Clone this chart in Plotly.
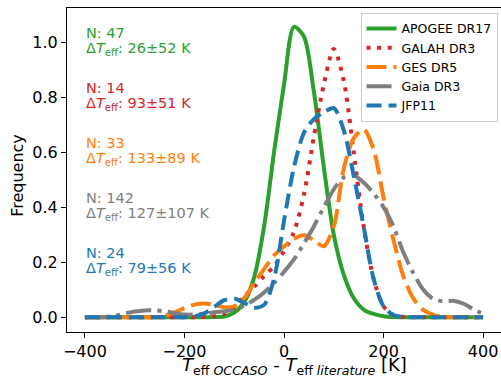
import plotly.graph_objects as go

# Temperature offset grid (K) shared by all density curves
dteff = [-400, -380, -360, -340, -320, -300, -280, -260, -240, -220, -200,
         -180, -160, -140, -120, -100, -80, -60, -40, -20, 0,
         20, 40, 60, 80, 100, 120, 140, 160, 180, 200,
         220, 240, 260, 280, 300, 320, 340, 360, 380, 400]

apogee = [0, 0, 0, 0, 0, 0, 0, 0, 0, 0, 0,
          0, 0, 0.001, 0.003, 0.017, 0.055, 0.145, 0.33, 0.60, 0.845,
          1.055, 1.02, 0.82, 0.545, 0.30, 0.155, 0.07, 0.028, 0.012, 0.004,
          0.001, 0, 0, 0, 0, 0, 0, 0, 0, 0]

galah = [0, 0, 0, 0, 0, 0, 0, 0, 0, 0, 0,
         0, 0.001, 0.004, 0.012, 0.035, 0.075, 0.11, 0.15, 0.185, 0.24,
         0.31, 0.445, 0.655, 0.845, 0.975, 0.86, 0.60, 0.33, 0.14, 0.04,
         0.008, 0.001, 0, 0, 0, 0, 0, 0, 0, 0]

ges = [0, 0, 0, 0, 0, 0, 0, 0, 0.005, 0.018, 0.033,
       0.046, 0.05, 0.045, 0.036, 0.04, 0.07, 0.124, 0.175, 0.225, 0.257,
       0.285, 0.298, 0.28, 0.258, 0.33, 0.54, 0.65, 0.683, 0.61, 0.435,
       0.28, 0.148, 0.068, 0.027, 0.009, 0.002, 0, 0, 0, 0]

gaia = [0, 0, 0.001, 0.005, 0.014, 0.021, 0.025, 0.025, 0.022, 0.015, 0.01,
        0.01, 0.013, 0.018, 0.022, 0.027, 0.042, 0.063, 0.09, 0.125, 0.165,
        0.21, 0.268, 0.33, 0.40, 0.465, 0.508, 0.515, 0.49, 0.45, 0.40,
        0.33, 0.235, 0.16, 0.10, 0.066, 0.058, 0.06, 0.05, 0.03, 0.012]

jfp11 = [0, 0, 0, 0, 0, 0, 0, 0, 0, 0, 0,
         0.003, 0.014, 0.038, 0.062, 0.068, 0.052, 0.035, 0.045, 0.14, 0.35,
         0.545, 0.67, 0.72, 0.745, 0.76, 0.68, 0.515, 0.33, 0.14, 0.04,
         0.008, 0.001, 0, 0, 0, 0, 0, 0, 0, 0]

names = ["APOGEE DR17", "GALAH DR3", "GES DR5", "Gaia DR3", "JFP11"]
n_stars = [47, 14, 33, 142, 24]
mean_off = [26, 93, 133, 127, 79]
std_off = [52, 51, 89, 107, 56]
label_y = [1.0, 0.8, 0.6, 0.4, 0.2]

colors = ["#2ca02c", "#d62728", "#ff7f0e", "#7f7f7f", "#1f77b4"]
dashes = ["solid", "4px,6.6px", "20px,7px", "25px,6.4px,4px,6.4px", "15px,7px"]
series = [apogee, galah, ges, gaia, jfp11]

FONT = "DejaVu Sans"

fig = go.Figure()
for name, ys, col, dash in zip(names, series, colors, dashes):
    fig.add_trace(go.Scatter(
        x=dteff, y=ys, mode="lines", name=name,
        line=dict(color=col, width=4, dash=dash, shape="spline", smoothing=0.8),
    ))

# Per-catalogue sample size and mean offset labels (two tight lines per block)
for n, m, s, yv, col in zip(n_stars, mean_off, std_off, label_y, colors):
    fig.add_annotation(x=-400, y=yv, xref="x", yref="y", xanchor="left", yanchor="bottom",
                       yshift=0, borderpad=0, text=f"N: {n}", showarrow=False,
                       font=dict(family=FONT, size=14.5, color=col))
    fig.add_annotation(x=-400, y=yv, xref="x", yref="y", xanchor="left", yanchor="top",
                       yshift=3, borderpad=0, text=f"Δ<i>T</i><sub>eff</sub>: {m}±{s} K",
                       showarrow=False, font=dict(family=FONT, size=14.5, color=col))

# Axis titles
fig.add_annotation(x=0.524, y=-0.066, xref="paper", yref="paper", xanchor="center", yanchor="top",
                   borderpad=0,
                   text="<i>T</i><sub>eff <i>OCCASO</i></sub> - <i>T</i><sub>eff <i>literature</i></sub> [K]",
                   showarrow=False, font=dict(family=FONT, size=18, color="black"))
fig.add_annotation(x=-0.113, y=0.485, xref="paper", yref="paper", xanchor="center", yanchor="middle",
                   text="Frequency", textangle=-90, showarrow=False,
                   font=dict(family=FONT, size=16, color="black"))

fig.update_layout(
    width=501, height=379,
    margin=dict(l=67, r=0, t=8, b=47),
    paper_bgcolor="white", plot_bgcolor="white",
    font=dict(family=FONT, size=16, color="black"),
    showlegend=True,
    legend=dict(x=0.992, y=0.985, xanchor="right", yanchor="top",
                bgcolor="rgba(255,255,255,0.8)", bordercolor="#cccccc", borderwidth=1,
                font=dict(family=FONT, size=12.5, color="black"),
                tracegroupgap=0, itemwidth=30),
)
fig.update_xaxes(
    range=[-436, 436], tickvals=[-400, -200, 0, 200, 400],
    showline=True, linecolor="black", linewidth=1, mirror=True,
    ticks="outside", ticklen=5, tickcolor="black", showgrid=False, zeroline=False,
    tickfont=dict(size=16), automargin=False,
)
fig.update_yaxes(
    range=[-0.0535, 1.1235], tickvals=[0, 0.2, 0.4, 0.6, 0.8, 1.0], tickformat=".1f",
    showline=True, linecolor="black", linewidth=1, mirror=False,
    ticks="outside", ticklen=5, tickcolor="black", showgrid=False, zeroline=False,
    tickfont=dict(size=16), automargin=False,
)

fig.write_html("out.html")
